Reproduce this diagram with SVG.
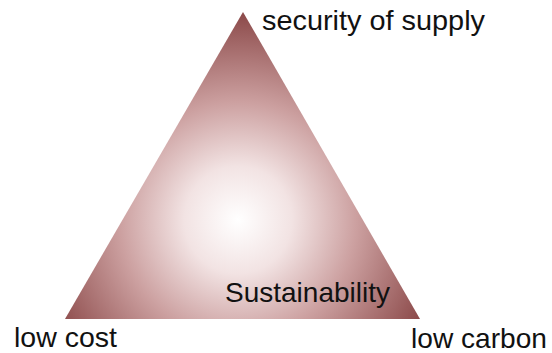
<svg xmlns="http://www.w3.org/2000/svg" width="552" height="353" viewBox="0 0 552 353">
<style>
.lbl{font-family:"Liberation Sans",Arial,sans-serif;font-size:28px;fill:#111}
</style>
<defs>
<radialGradient id="g" gradientUnits="userSpaceOnUse" cx="238" cy="220" r="215">
<stop offset="0" stop-color="#ffffff"/>
<stop offset="0.25" stop-color="#f2e3e3"/>
<stop offset="0.55" stop-color="#cca0a0"/>
<stop offset="1" stop-color="#864242"/>
</radialGradient>
</defs>
<rect width="552" height="353" fill="#fff"/>
<g id="triangle">
<polygon points="243,12 420,319 65,319" fill="url(#g)"/>
<text class="lbl" x="225" y="302" textLength="165" lengthAdjust="spacingAndGlyphs">Sustainability</text>
</g>
<g id="security">
<text class="lbl" x="262" y="30" textLength="223" lengthAdjust="spacingAndGlyphs">security of supply</text>
</g>
<g id="lowcost">
<text class="lbl" x="14" y="347" textLength="103" lengthAdjust="spacingAndGlyphs">low cost</text>
</g>
<g id="lowcarbon">
<text class="lbl" x="411" y="348" textLength="136" lengthAdjust="spacingAndGlyphs">low carbon</text>
</g>
<g id="connectors"/>
</svg>
